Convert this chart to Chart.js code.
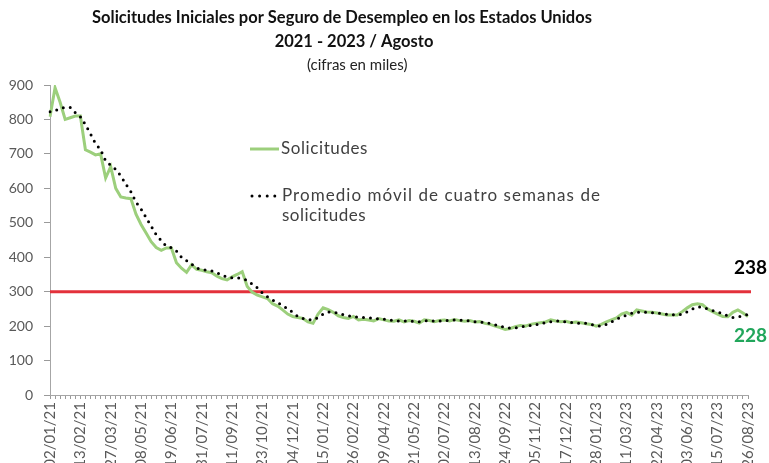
<!DOCTYPE html>
<html><head><meta charset="utf-8">
<script src="https://cdn.jsdelivr.net/npm/chart.js@4.4.1/dist/chart.umd.min.js"></script>
<style>html,body{margin:0;padding:0;background:#fff;overflow:hidden}
#wrap{position:relative;width:769px;height:463px}</style>
</head><body><div id="wrap"><canvas id="c" width="769" height="463"></canvas></div>
<script>
const categories = [
'02/01/21','09/01/21','16/01/21','23/01/21','30/01/21','06/02/21','13/02/21','20/02/21','27/02/21','06/03/21','13/03/21','20/03/21','27/03/21',
'03/04/21','10/04/21','17/04/21','24/04/21','01/05/21','08/05/21','15/05/21','22/05/21','29/05/21','05/06/21','12/06/21','19/06/21','26/06/21',
'03/07/21','10/07/21','17/07/21','24/07/21','31/07/21','07/08/21','14/08/21','21/08/21','28/08/21','04/09/21','11/09/21','18/09/21','25/09/21',
'02/10/21','09/10/21','16/10/21','23/10/21','30/10/21','06/11/21','13/11/21','20/11/21','27/11/21','04/12/21','11/12/21','18/12/21','25/12/21',
'01/01/22','08/01/22','15/01/22','22/01/22','29/01/22','05/02/22','12/02/22','19/02/22','26/02/22','05/03/22','12/03/22','19/03/22','26/03/22',
'02/04/22','09/04/22','16/04/22','23/04/22','30/04/22','07/05/22','14/05/22','21/05/22','28/05/22','04/06/22','11/06/22','18/06/22','25/06/22',
'02/07/22','09/07/22','16/07/22','23/07/22','30/07/22','06/08/22','13/08/22','20/08/22','27/08/22','03/09/22','10/09/22','17/09/22','24/09/22',
'01/10/22','08/10/22','15/10/22','22/10/22','29/10/22','05/11/22','12/11/22','19/11/22','26/11/22','03/12/22','10/12/22','17/12/22','24/12/22','31/12/22',
'07/01/23','14/01/23','21/01/23','28/01/23','04/02/23','11/02/23','18/02/23','25/02/23','04/03/23','11/03/23','18/03/23','25/03/23',
'01/04/23','08/04/23','15/04/23','22/04/23','29/04/23','06/05/23','13/05/23','20/05/23','27/05/23','03/06/23','10/06/23','17/06/23','24/06/23',
'01/07/23','08/07/23','15/07/23','22/07/23','29/07/23','05/08/23','12/08/23','19/08/23','26/08/23'];

const solicitudes = [
808,892,850,800,805,810,810,712,705,697,700,630,663,600,575,572,570,525,495,470,
445,428,420,427,427,384,368,356,378,365,362,358,355,345,338,334,343,350,358,315,
298,290,285,280,265,258,247,235,228,225,222,212,208,235,253,248,240,230,225,222,
228,218,220,218,215,222,218,215,214,218,212,216,214,209,218,216,213,216,218,215,
219,216,214,216,212,213,208,205,200,196,190,193,198,202,200,205,208,210,212,218,
215,213,214,210,212,210,207,205,200,205,212,218,224,235,240,232,247,244,241,240,
238,235,232,232,232,242,253,262,265,262,250,242,235,228,227,240,247,238,228];

const promedioMovil = [
822,825,832,835,835,820,808,785,758,730,712,680,667,655,636,612,590,560,540,515,
490,465,448,432,428,418,400,390,380,368,365,362,360,355,348,343,340,340,338,333,
322,311,296,285,276,268,260,250,240,228,222,219,218,225,235,241,240,238,233,230,
228,226,225,224,223,221,220,218,216,215,215,215,214,213,215,216,214,215,216,217,
218,217,216,215,213,212,210,208,204,200,196,194,195,197,200,202,204,207,210,213,
215,214,212,211,209,208,208,205,201,200,205,212,220,226,232,237,240,241,240,239,
238,236,234,233,232,235,242,250,256,254,250,245,241,236,230,225,226,230,234];

const yMin = 0, yMax = 900, yStep = 100;
const labelEvery = 6;
const referencia = 300;
const etiquetaPromedio = '238';
const etiquetaSolicitudes = '228';
const tituloLineas = ['Solicitudes Iniciales por Seguro de Desempleo en los Estados Unidos', '2021 - 2023 / Agosto'];
const subtitulo = '(cifras en miles)';
const nombreSerie1 = 'Solicitudes';
const nombreSerie2 = ['Promedio móvil de cuatro semanas de', 'solicitudes'];

const GREEN = '#9ccf7c';
const FONT = 'Lato';

function fitSize(ctx, text, weight, target) {
  ctx.letterSpacing = '0px';
  ctx.font = weight + ' 20px ' + FONT;
  return 20 * target / ctx.measureText(text).width;
}
function spacedText(ctx, text, x, y, font, target) {
  ctx.font = font;
  ctx.letterSpacing = '0px';
  const w = ctx.measureText(text).width;
  const sp = target ? Math.max(0, (target - w) / text.length) : 0;
  ctx.letterSpacing = sp + 'px';
  ctx.fillText(text, x, y);
  ctx.letterSpacing = '0px';
}

const decor = {
  id: 'decor',
  beforeDatasetsDraw(chart) {
    const {ctx, chartArea, scales} = chart;
    const y = scales.y.getPixelForValue(referencia);
    ctx.save();
    ctx.strokeStyle = '#e3313b';
    ctx.lineWidth = 3;
    ctx.beginPath();
    ctx.moveTo(chartArea.left, y);
    ctx.lineTo(chartArea.right + 3, y);
    ctx.stroke();
    ctx.restore();
  },
  afterDraw(chart) {
    const {ctx} = chart;
    ctx.save();
    ctx.textBaseline = 'middle';
    ctx.textAlign = 'center';
    // title
    const tSize = fitSize(ctx, tituloLineas[0], 'bold', 500);
    ctx.fillStyle = '#111';
    ctx.font = 'bold ' + tSize + 'px ' + FONT;
    ctx.fillText(tituloLineas[0], 342, 18);
    ctx.fillText(tituloLineas[1], 354, 42);
    ctx.textAlign = 'left';
    ctx.fillStyle = '#222';
    spacedText(ctx, subtitulo, 354 - 47, 65, 'normal 15px ' + FONT, 94);

    // legend
    const lFont = 'normal 17px ' + FONT;
    ctx.fillStyle = '#404040';
    ctx.strokeStyle = GREEN;
    ctx.lineWidth = 3;
    ctx.beginPath(); ctx.moveTo(250, 149); ctx.lineTo(279, 149); ctx.stroke();
    spacedText(ctx, nombreSerie1, 281, 149, lFont, 87);
    ctx.strokeStyle = '#000';
    ctx.lineCap = 'round';
    ctx.setLineDash([0, 7.6]);
    ctx.beginPath(); ctx.moveTo(252, 196); ctx.lineTo(276, 196); ctx.stroke();
    ctx.setLineDash([]);
    spacedText(ctx, nombreSerie2[0], 282, 196, lFont, 319);
    spacedText(ctx, nombreSerie2[1], 282, 216, lFont, 84);

    // end labels
    ctx.textAlign = 'right';
    ctx.font = 'bold 19px ' + FONT;
    ctx.fillStyle = '#000';
    ctx.fillText(etiquetaPromedio, 767, 268);
    ctx.fillStyle = '#21a65b';
    ctx.fillText(etiquetaSolicitudes, 767, 336);
    ctx.restore();
  }
};

new Chart(document.getElementById('c'), {
  type: 'line',
  data: {
    labels: categories,
    datasets: [
      {label: nombreSerie1, data: solicitudes, borderColor: GREEN, borderWidth: 3, pointRadius: 0, tension: 0, order: 2},
      {label: nombreSerie2.join(' '), data: promedioMovil, borderColor: '#000', borderWidth: 3, borderDash: [0, 7], borderCapStyle: 'round', pointRadius: 0, tension: 0, order: 1}
    ]
  },
  options: {
    responsive: false,
    animation: false,
    devicePixelRatio: 1,
    layout: {padding: {top: 85, right: 16, left: 0, bottom: 0}},
    plugins: {legend: {display: false}, tooltip: {enabled: false}, title: {display: false}},
    scales: {
      x: {
        type: 'category',
        offset: false,
        afterFit: s => { s.height = 68; },
        grid: {display: true, drawOnChartArea: false, drawTicks: true, tickLength: 4, color: '#9a9a9a'},
        border: {display: true, color: '#a6a6a6'},
        ticks: {autoSkip: false, maxRotation: 90, minRotation: 90, padding: 3, color: '#595959',
          font: {family: FONT, size: 15},
          callback: (v, i) => (i % labelEvery === 0 ? categories[i] : '')}
      },
      y: {
        min: yMin, max: yMax,
        afterFit: s => { s.width = 50; },
        grid: {display: true, drawOnChartArea: false, drawTicks: true, tickLength: 6, color: '#9a9a9a'},
        border: {display: true, color: '#a6a6a6'},
        ticks: {stepSize: yStep, padding: 11, color: '#595959', font: {family: FONT, size: 14}}
      }
    }
  },
  plugins: [decor]
});
</script>
</body></html>
